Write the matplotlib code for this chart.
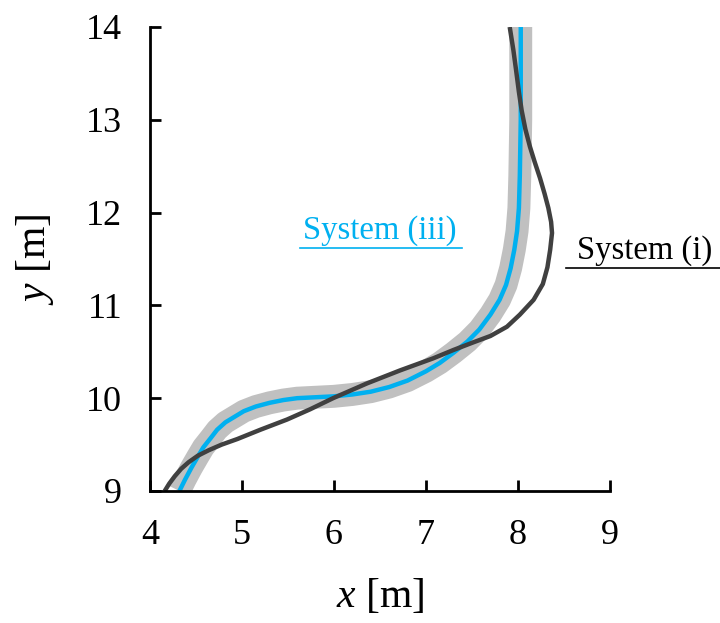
import matplotlib
matplotlib.use('Agg')
import matplotlib.pyplot as plt

plt.rcParams['font.family'] = 'Liberation Serif'
plt.rcParams['mathtext.fontset'] = 'custom'
plt.rcParams['mathtext.rm'] = 'Liberation Serif'
plt.rcParams['mathtext.it'] = 'Liberation Serif:italic'

# trajectory of system (iii): x, y in metres
sys3_x = [4.32, 4.38, 4.45, 4.52, 4.58, 4.66, 4.73, 4.82, 4.92, 5.02, 5.15,
          5.30, 5.45, 5.60, 5.80, 6.00, 6.20, 6.40, 6.60, 6.80, 7.00, 7.15,
          7.30, 7.45, 7.58, 7.70, 7.80, 7.87, 7.92, 7.96, 7.99, 8.01, 8.02,
          8.03, 8.03]
sys3_y = [9.00, 9.12, 9.25, 9.37, 9.47, 9.57, 9.66, 9.74, 9.80, 9.86, 9.91,
          9.95, 9.98, 10.00, 10.01, 10.02, 10.04, 10.07, 10.12, 10.19, 10.29,
          10.38, 10.49, 10.61, 10.74, 10.90, 11.06, 11.22, 11.40, 11.60, 11.80,
          12.05, 12.40, 13.00, 14.00]

# trajectory of system (i)
sys1_x = [4.16, 4.21, 4.27, 4.34, 4.42, 4.52, 4.64, 4.78, 4.95, 5.20, 5.49,
          5.74, 5.99, 6.36, 6.72, 7.08, 7.30, 7.51, 7.70, 7.88, 8.02, 8.17,
          8.27, 8.32, 8.35, 8.37, 8.36, 8.33, 8.29, 8.24, 8.18, 8.13, 8.08,
          8.04, 8.01, 7.98, 7.95, 7.91]
sys1_y = [9.00, 9.08, 9.16, 9.24, 9.31, 9.38, 9.44, 9.50, 9.56, 9.66, 9.77,
          9.88, 10.00, 10.16, 10.30, 10.43, 10.52, 10.60, 10.67, 10.77, 10.90,
          11.06, 11.23, 11.41, 11.60, 11.78, 11.90, 12.05, 12.20, 12.37, 12.55,
          12.71, 12.90, 13.10, 13.30, 13.53, 13.75, 14.00]

xticks = [4, 5, 6, 7, 8, 9]
yticks = [9, 10, 11, 12, 13, 14]

blue = '#00b0f0'
dark = '#404040'

fig = plt.figure(figsize=(7.2, 6.23), dpi=100)
ax = fig.add_axes([0.2083, 0.2119, 0.6389, 0.7448])

style = dict(solid_capstyle='butt', solid_joinstyle='round')
ax.plot(sys3_x, sys3_y, color='#c0c0c0', lw=16.5, **style)
ax.plot(sys3_x, sys3_y, color=blue, lw=3.2, **style)
ax.plot(sys1_x, sys1_y, color=dark, lw=3.2, **style)

ax.set_xlim(4, 9)
ax.set_ylim(9, 14)
ax.set_xticks(xticks)
ax.set_yticks(yticks)
for s in ['top', 'right']:
    ax.spines[s].set_visible(False)
for s in ['left', 'bottom']:
    ax.spines[s].set_linewidth(2)
ax.tick_params(direction='in', length=8, width=2, labelsize=26)
ax.tick_params(axis='y', pad=20)
ax.tick_params(axis='x', pad=20)

ax.set_xlabel(r'$x$ [m]', fontsize=30, labelpad=18)
ax.set_ylabel(r'$y$ [m]', fontsize=30, labelpad=22)

# labels with underline
ax.text(6.5, 11.64, 'System (iii)', color=blue, fontsize=23.5,
        ha='center', va='bottom')
ax.plot([5.63, 7.39], [11.62, 11.62], color=blue, lw=1.2, clip_on=False)
ax.text(9.38, 11.42, 'System (i)', color='black', fontsize=23.5,
        ha='center', va='bottom')
ax.plot([8.52, 10.2], [11.40, 11.40], color='black', lw=1.2, clip_on=False)

fig.savefig('out.png', dpi=100)
